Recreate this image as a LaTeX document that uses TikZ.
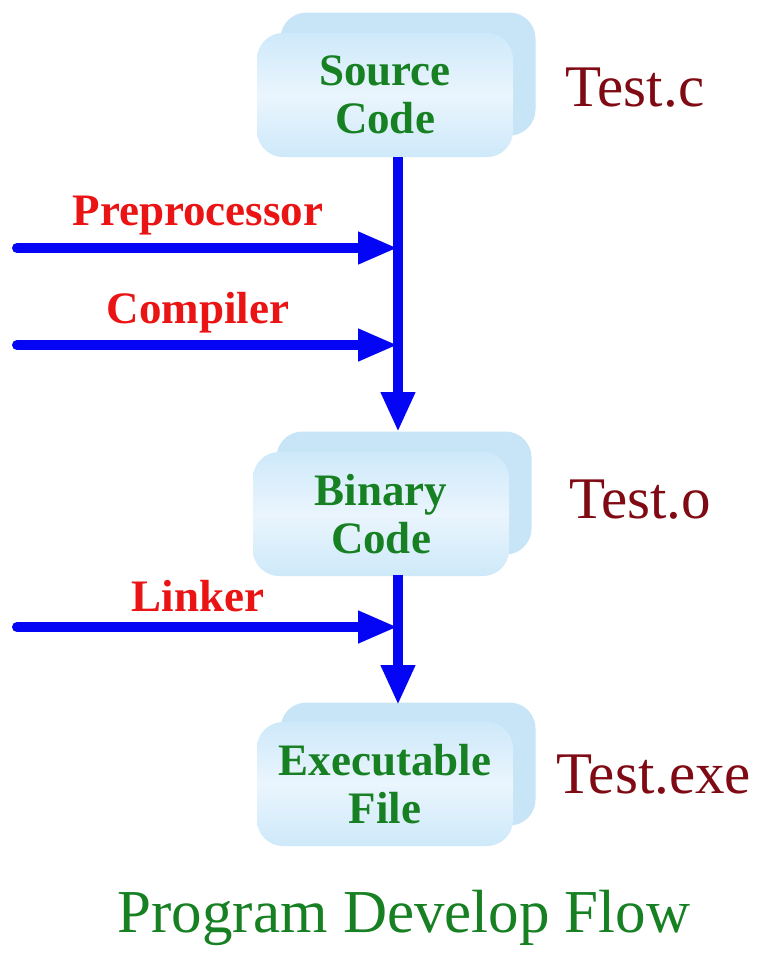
\documentclass[tikz,border=0pt]{standalone}
\usepackage{fontspec}
\setmainfont{Liberation Serif}
\usetikzlibrary{arrows.meta}
\definecolor{boxback}{RGB}{200,228,247}
\definecolor{boxfront}{RGB}{206,233,250}
\definecolor{boxlight}{RGB}{234,245,253}
\definecolor{txtgreen}{RGB}{22,128,34}
\definecolor{txtred}{RGB}{235,20,20}
\definecolor{txtmaroon}{RGB}{128,10,20}
\definecolor{flowblue}{RGB}{5,5,245}
\begin{document}
\begin{tikzpicture}[x=1pt,y=-1pt,
  backbox/.style={rounded corners=26pt, fill=boxback, minimum width=255pt, minimum height=123pt, inner sep=0pt},
  frontbox/.style={rounded corners=26pt, top color=boxfront, bottom color=boxfront, middle color=boxlight, minimum width=256pt, minimum height=124pt, inner sep=0pt, align=center, text=txtgreen, font=\fontsize{45}{48}\selectfont\bfseries},
  steplabel/.style={text=txtred, font=\fontsize{45}{48}\selectfont\bfseries, inner sep=0pt},
  filelabel/.style={text=txtmaroon, font=\fontsize{59}{62}\selectfont, inner sep=0pt},
  flow/.style={draw=flowblue, line width=10pt, -{Triangle[length=40pt,width=32pt]}},
  feed/.style={draw=flowblue, line width=10pt, line cap=round, -{Triangle[length=40pt,width=30pt]}}
]
\useasboundingbox[fill=white] (0,0) rectangle (758,954);

% Source code
\node[backbox] (srcback) at (408,74) {};
\node[frontbox] (src) at (385,95) {Source\\Code};
% Binary code
\node[backbox] (binback) at (404,493) {};
\node[frontbox] (bin) at (381,514) {Binary\\Code};
% Executable
\node[backbox] (exeback) at (408,764) {};
\node[frontbox] (exe) at (385,784) {Executable\\File};

% file names
\node[filelabel] (tc) at (635,88) {Test.c};
\node[filelabel] (to) at (640,500) {Test.o};
\node[filelabel] (te) at (654,775) {Test.exe};

% step labels
\node[steplabel] (pre) at (198,216) {Preprocessor};
\node[steplabel] (comp) at (198,313) {Compiler};
\node[steplabel] (link) at (198,596) {Linker};

% trunk coordinates
\coordinate (t1) at (398,157);
\coordinate (t2) at (398,432);
\coordinate (t3) at (398,575);
\coordinate (t4) at (398,705);
\coordinate (j1) at (398,248);
\coordinate (j2) at (398,345);
\coordinate (j3) at (398,627);
\coordinate (s1) at (17,248);
\coordinate (s2) at (17,345);
\coordinate (s3) at (17,627);

\draw[flow] (t1) -- (t2);
\draw[flow] (t3) -- (t4);
\draw[feed] (s1) -- (j1);
\draw[feed] (s2) -- (j2);
\draw[feed] (s3) -- (j3);

% title
\node[text=txtgreen, font=\fontsize{61}{64}\selectfont, inner sep=0pt] (title) at (404,918) {Program Develop Flow};
\end{tikzpicture}
\end{document}
